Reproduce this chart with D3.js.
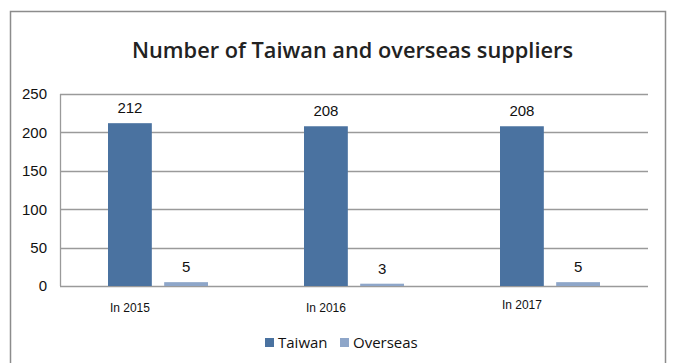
<!DOCTYPE html>
<html>
<head>
<meta charset="utf-8">
<script src="https://cdn.jsdelivr.net/npm/d3@7"></script>
<style>
body { margin: 0; background: #fff; }
</style>
</head>
<body>
<div id="chart"></div>
<script>
var years = ["In 2015", "In 2016", "In 2017"];
var seriesNames = ["Taiwan", "Overseas"];
var taiwan = [212, 208, 208];
var overseas = [5, 3, 5];
var yTicks = [0, 50, 100, 150, 200, 250];

function drawChart(){
    var width = 673, height = 363;
    var margin = {top: 94, left: 60, right: 25, bottom: 77};
    var color = ["#4a72a0", "#8ea6c9"];

    var svg = d3.select("#chart").append("svg")
        .attr("width", width)
        .attr("height", height);

    // outer frame (bottom edge runs off the picture)
    svg.append("path")
        .attr("d", "M10.5," + (height + 5) + "V11.5H665.5V" + (height + 5))
        .attr("fill", "none")
        .style("stroke", "#8c8c8c")
        .style("stroke-width", 1.5);

    svg.append("text")
        .attr("x", 132).attr("y", 58)
        .attr("textLength", 441)
        .attr("lengthAdjust", "spacingAndGlyphs")
        .style("font-family", "'Open Sans', Lato, sans-serif")
        .style("font-size", "21px")
        .style("font-weight", "600")
        .style("fill", "#222")
        .text("Number of Taiwan and overseas suppliers");

    var x = d3.scaleBand()
        .domain(years)
        .range([margin.left, width - margin.right]);

    var y = d3.scaleLinear()
        .domain([0, 250])
        .range([height - margin.bottom, margin.top]);

    var x1 = d3.scaleBand()
        .domain(seriesNames)
        .range([48, x.bandwidth() - 48])
        .paddingInner(0.22);

    // gridlines
    svg.append("g").selectAll("line")
        .data(yTicks)
        .enter().append("line")
        .attr("x1", margin.left).attr("x2", width - margin.right)
        .attr("y1", function(d){ return Math.round(y(d)) + 0.5; })
        .attr("y2", function(d){ return Math.round(y(d)) + 0.5; })
        .style("stroke", "#9a9a9a")
        .style("stroke-width", 1.3);

    svg.append("line")
        .attr("x1", margin.left + 0.5).attr("x2", margin.left + 0.5)
        .attr("y1", y(250)).attr("y2", y(0))
        .style("stroke", "#9a9a9a")
        .style("stroke-width", 1.3);

    // y axis labels
    var yAxis = d3.axisLeft(y).tickValues(yTicks).tickSize(0).tickPadding(13);
    var ga = svg.append("g")
        .attr("transform", "translate(" + margin.left + ",0)")
        .call(yAxis);
    ga.select(".domain").remove();
    ga.selectAll("text")
        .style("font-family", "Arial, 'Liberation Sans', sans-serif")
        .style("font-size", "15px")
        .style("fill", "#111");

    var rows = years.map(function(yr, i){
        return {year: yr, values: [taiwan[i], overseas[i]]};
    });

    var groups = svg.selectAll(".grp")
        .data(rows)
        .enter().append("g")
        .attr("class", "grp")
        .attr("transform", function(d){ return "translate(" + x(d.year) + ",0)"; });

    groups.selectAll("rect")
        .data(function(d){ return d.values.map(function(v, i){ return {name: seriesNames[i], v: v, i: i}; }); })
        .enter().append("rect")
        .attr("x", function(d){ return x1(d.name); })
        .attr("width", x1.bandwidth())
        .attr("y", function(d){ return y(d.v); })
        .attr("height", function(d){ return y(0) - y(d.v); })
        .attr("fill", function(d){ return color[d.i]; });

    groups.selectAll(".val")
        .data(function(d){ return d.values.map(function(v, i){ return {name: seriesNames[i], v: v}; }); })
        .enter().append("text")
        .attr("class", "val")
        .attr("x", function(d){ return x1(d.name) + x1.bandwidth() / 2; })
        .attr("y", function(d){ return y(d.v) - 10; })
        .attr("text-anchor", "middle")
        .style("font-family", "Arial, 'Liberation Sans', sans-serif")
        .style("font-size", "15px")
        .style("fill", "#111")
        .text(function(d){ return d.v; });

    // category labels sit under the Taiwan bar
    groups.append("text")
        .attr("x", x1("Taiwan") + x1.bandwidth() / 2)
        .attr("y", function(d, i){ return i == 2 ? 309 : 312; })
        .attr("text-anchor", "middle")
        .style("font-family", "Arial, 'Liberation Sans', sans-serif")
        .style("font-size", "12px")
        .style("fill", "#111")
        .text(function(d){ return d.year; });

    // legend
    var lx = [265, 340];
    seriesNames.forEach(function(n, i){
        svg.append("rect")
            .attr("x", lx[i]).attr("y", 338)
            .attr("width", 9).attr("height", 9)
            .attr("fill", color[i]);
        svg.append("text")
            .attr("x", lx[i] + 13).attr("y", 348)
            .style("font-family", "'Open Sans', Lato, sans-serif")
            .style("font-size", "15px")
            .style("fill", "#111")
            .text(n);
    });
}
drawChart();
</script>
</body>
</html>
